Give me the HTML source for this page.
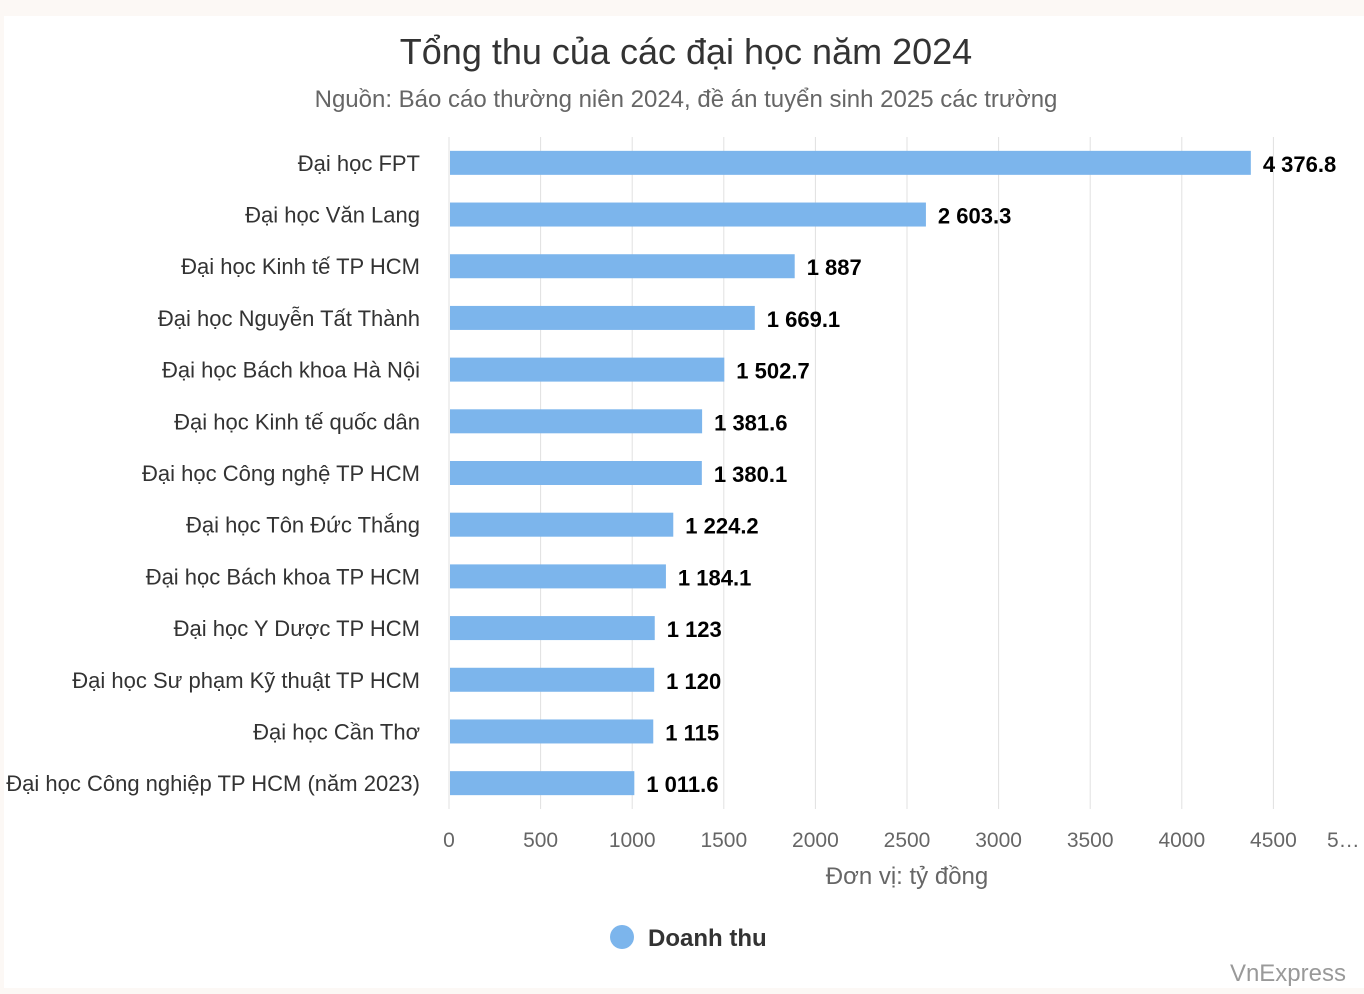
<!DOCTYPE html>
<html><head><meta charset="utf-8">
<style>
html,body{margin:0;padding:0;background:#fcf8f5;}
#wrap{position:absolute;left:4px;top:16px;width:1360px;height:972px;background:#fff;}
svg{position:absolute;left:0;top:0;font-family:"Liberation Sans",sans-serif;}
</style></head>
<body>
<div id="wrap"></div>
<svg id="chart" width="1364" height="994">
<text x="686" y="64" text-anchor="middle" font-size="36" fill="#333">Tổng thu của các đại học năm 2024</text>
<text x="686" y="107" text-anchor="middle" font-size="24" fill="#666">Nguồn: Báo cáo thường niên 2024, đề án tuyển sinh 2025 các trường</text>
<g id="grid"></g><g id="bars"></g><g id="labels"></g><g id="xticks"></g>
<text x="907" y="884" text-anchor="middle" font-size="24" fill="#666">Đơn vị: tỷ đồng</text>
<g>
<circle cx="622" cy="937" r="12" fill="#7cb5ec"></circle>
<text x="648" y="946" font-size="24" font-weight="bold" fill="#333">Doanh thu</text>
</g>
<text x="1346" y="981" text-anchor="end" font-size="24" fill="#999">VnExpress</text>
</svg>
<script>
const categories=["Đại học FPT","Đại học Văn Lang","Đại học Kinh tế TP HCM","Đại học Nguyễn Tất Thành","Đại học Bách khoa Hà Nội","Đại học Kinh tế quốc dân","Đại học Công nghệ TP HCM","Đại học Tôn Đức Thắng","Đại học Bách khoa TP HCM","Đại học Y Dược TP HCM","Đại học Sư phạm Kỹ thuật TP HCM","Đại học Cần Thơ","Đại học Công nghiệp TP HCM (năm 2023)"];
const values=[4376.8,2603.3,1887,1669.1,1502.7,1381.6,1380.1,1224.2,1184.1,1123,1120,1115,1011.6];
const valueLabels=["4 376.8","2 603.3","1 887","1 669.1","1 502.7","1 381.6","1 380.1","1 224.2","1 184.1","1 123","1 120","1 115","1 011.6"];
const ticks=[0,500,1000,1500,2000,2500,3000,3500,4000,4500,5000];
const tickLabels=["0","500","1000","1500","2000","2500","3000","3500","4000","4500","5…"];
const NS="http://www.w3.org/2000/svg";
const x0=449,xMax=5000,pw=916,plotTop=137,plotBottom=809;
const xs=v=>x0+v/xMax*pw;
const band=(plotBottom-plotTop)/categories.length;
const yc=i=>plotTop+band*(i+0.5);
function mk(tag,attrs,parent,txt){const e=document.createElementNS(NS,tag);for(const k in attrs)e.setAttribute(k,attrs[k]);if(txt!==undefined)e.textContent=txt;document.getElementById(parent).appendChild(e);return e;}
ticks.forEach((t,i)=>{
  const g=mk("line",{x1:xs(t),x2:xs(t),y1:plotTop,y2:plotBottom,stroke:"#e0e0e0","stroke-width":1},"grid");
  
  
  const last=i===ticks.length-1;
  const tl=mk("text",{x:last?xs(t)-38:xs(t),y:847,"text-anchor":last?"start":"middle","font-size":21,fill:"#666"},"xticks",tickLabels[i]);
  
  
});
categories.forEach((c,i)=>{
  const y=yc(i);
  const b=mk("rect",{x:x0+1,y:y-12,width:xs(values[i])-x0-1,height:24,fill:"#7cb5ec"},"bars");
  
  
  const vl=mk("text",{x:xs(values[i])+12,y:y+9,"font-size":22,"font-weight":"bold",fill:"#000"},"labels",valueLabels[i]);
  
  
  const cl=mk("text",{x:420,y:y+8,"text-anchor":"end","font-size":22,fill:"#333"},"labels",c);
  
  
});
</script>
</body></html>
